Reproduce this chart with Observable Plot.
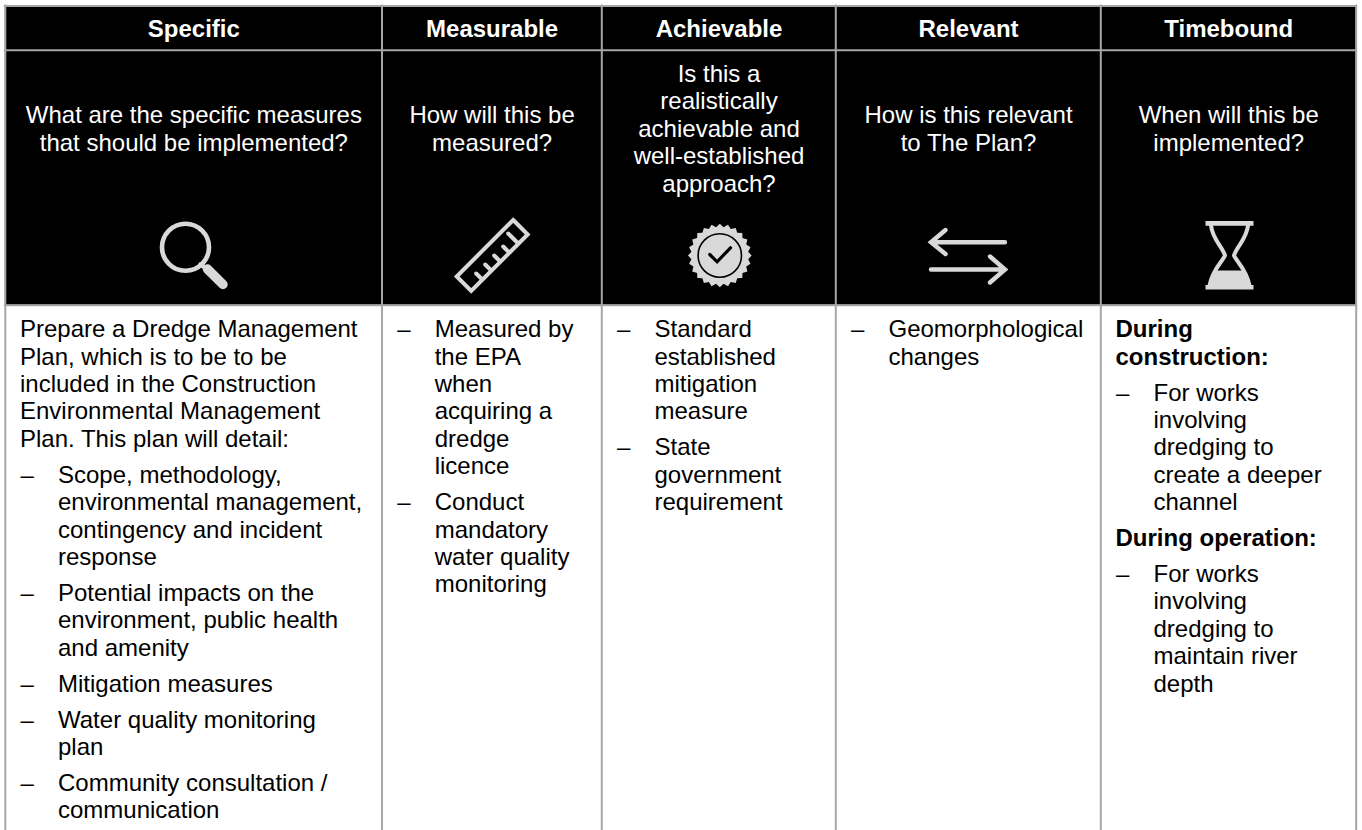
<!DOCTYPE html>
<html>
<head>
<meta charset="utf-8">
<script src="https://cdn.jsdelivr.net/npm/d3@7"></script>
<script src="https://cdn.jsdelivr.net/npm/@observablehq/plot@0.6"></script>
<style>
html,body{margin:0;padding:0;background:#fff}
svg{display:block}
</style>
</head>
<body>
<div id="chart"></div>
<script>
// ---------- content ----------
const headings = ["Specific", "Measurable", "Achievable", "Relevant", "Timebound"];
const questions = [
  ["What are the specific measures", "that should be implemented?"],
  ["How will this be", "measured?"],
  ["Is this a", "realistically", "achievable and", "well-established", "approach?"],
  ["How is this relevant", "to The Plan?"],
  ["When will this be", "implemented?"]
];
const specificBody = [
  ["lead", "Prepare a Dredge Management", "Plan, which is to be to be", "included in the Construction", "Environmental Management", "Plan. This plan will detail:"],
  ["bullet", "Scope, methodology,", "environmental management,", "contingency and incident", "response"],
  ["bullet", "Potential impacts on the", "environment, public health", "and amenity"],
  ["bullet", "Mitigation measures"],
  ["bullet", "Water quality monitoring", "plan"],
  ["bullet", "Community consultation /", "communication"]
];
const measurableBody = [
  ["bullet", "Measured by", "the EPA", "when", "acquiring a", "dredge", "licence"],
  ["bullet", "Conduct", "mandatory", "water quality", "monitoring"]
];
const achievableBody = [
  ["bullet", "Standard", "established", "mitigation", "measure"],
  ["bullet", "State", "government", "requirement"]
];
const relevantBody = [
  ["bullet", "Geomorphological", "changes"]
];
const timeboundBody = [
  ["bold", "During", "construction:"],
  ["bullet", "For works", "involving", "dredging to", "create a deeper", "channel"],
  ["bold", "During operation:"],
  ["bullet", "For works", "involving", "dredging to", "maintain river", "depth"]
];
const bodies = [specificBody, measurableBody, achievableBody, relevantBody, timeboundBody];

// ---------- layout ----------
const W = 1362, H = 830;
const edges = [4.8, 381.5, 601.3, 835.3, 1100.3, 1355.7];
const rows = [5.5, 49.8, 304.7];
const FS = 24, LH = 27.42, GAP = 8.5;
const PAD = 15.2, INDENT = 37.5;
const centers = headings.map((_, i) => (edges[i] + edges[i + 1]) / 2 + 0.2);
const FONT = "'Liberation Sans', Arial, sans-serif";

const headRows = headings.map((t, i) => ({t, x: centers[i], y: 36.7}));
const questionRows = questions.flatMap((lines, c) =>
  lines.map((t, i) => ({t, x: centers[c], y: 136.4 + (i - (lines.length - 1) / 2) * LH})));
const bodyRows = [], dashRows = [];
bodies.forEach((paras, c) => {
  let y = 336.7;
  const left = edges[c] + PAD;
  paras.forEach(([kind, ...lines]) => {
    if (kind === "bullet") dashRows.push({x: left, y});
    lines.forEach(t => {
      bodyRows.push({t, y, x: kind === "bullet" ? left + INDENT : left - 0.5, bold: kind === "bold"});
      y += LH;
    });
    y += GAP;
  });
});

// ---------- icon glyphs, in local pixels around each icon's anchor ----------
const glyph = draw => ({draw});
const poly = (p, pts, close) => {
  pts.forEach(([x, y], i) => i ? p.lineTo(x, y) : p.moveTo(x, y));
  if (close) p.closePath();
};
const loupeRing = glyph(p => { p.moveTo(23.5, -8.3); p.arc(0, -8.3, 23.5, 0, 2 * Math.PI); poly(p, [[15, 9], [22, 14]]); });
const loupeGrip = glyph(p => poly(p, [[22, 13.6], [37.5, 29]]));
const rulerBody = glyph(p => {
  poly(p, [[21, -35.5], [35.5, -21], [-21, 35.5], [-35.5, 21]], true);
  [[26, -12, 10], [17, -3, 6], [8, 6, 6], [-1, 15, 6], [-10, 24, 6]].forEach(([x, y, l]) =>
    poly(p, [[x, y], [x - l, y - l]]));
});
const sealOutline = glyph(p => {
  const n = 24;
  for (let i = 0; i < 2 * n; i++) {
    const r = i % 2 ? 28.6 : 31.8, a = i * Math.PI / n;
    const x = r * Math.cos(a), y = r * Math.sin(a);
    i ? p.lineTo(x, y) : p.moveTo(x, y);
  }
  p.closePath();
});
const sealRing = glyph(p => { p.moveTo(21.7, 0); p.arc(0, 0, 21.7, 0, 2 * Math.PI); });
const sealTick = glyph(p => poly(p, [[-10, -1], [-2.7, 6.3], [10.7, -7.7]]));
const arrowPair = glyph(p => {
  poly(p, [[-37.5, -13.3], [36.5, -13.3]]);
  poly(p, [[-23, -25.5], [-37.5, -13.3], [-23, -1.5]]);
  poly(p, [[-37.5, 14], [36.5, 14]]);
  poly(p, [[21.5, 1], [36.5, 14], [21.5, 27]]);
});
const glassBars = glyph(p => {
  poly(p, [[-24, -34.4], [24, -34.4], [24, -29.8], [-24, -29.8]], true);
  poly(p, [[-24, 29.4], [24, 29.4], [24, 34], [-24, 34]], true);
});
const glassOutline = glyph(p => {
  p.moveTo(-18.5, -30); p.bezierCurveTo(-17, -16, -7, -9, -4.5, 0); p.bezierCurveTo(-7, 6, -17, 14, -20, 30);
  p.moveTo(18.5, -30); p.bezierCurveTo(17, -16, 7, -9, 4.5, 0); p.bezierCurveTo(7, 6, 17, 14, 20, 30);
});
const glassSand = glyph(p => poly(p, [[-12.5, 15], [12.5, 15], [17, 21], [21.5, 30], [-21.5, 30], [-17, 21]], true));

const ICON = "#d9d9d9";
const anchors = [{x: 185, y: 255}, {x: 491.7, y: 255}, {x: 719.3, y: 255}, {x: 968, y: 255}, {x: 1229, y: 255}];
const iconParts = [
  [0, loupeRing, "none", ICON, 4.6],
  [0, loupeGrip, "none", ICON, 9.5],
  [1, rulerBody, "none", ICON, 4],
  [2, sealOutline, ICON, "none", 0],
  [2, sealRing, "none", "#000", 1.6],
  [2, sealTick, "none", "#000", 3.2],
  [3, arrowPair, "none", ICON, 4.4],
  [4, glassBars, ICON, "none", 0],
  [4, glassOutline, "none", ICON, 4],
  [4, glassSand, ICON, "none", 0]
];

// ---------- chart ----------
const textOpts = {x: "x", y: "y", text: "t", fontSize: FS, fontFamily: FONT, lineAnchor: "bottom"};
const chart = Plot.plot({
  width: W, height: H,
  margin: 0,
  x: {domain: [0, W], range: [0, W], axis: null},
  y: {domain: [0, H], range: [0, H], axis: null},
  style: {background: "#fff"},
  marks: [
    Plot.rect([{}], {x1: () => edges[0], x2: () => edges[5], y1: () => rows[0], y2: () => rows[2], fill: "#000"}),
    Plot.ruleX(edges, {x: d => d, y1: rows[0] - 1, y2: H, stroke: "#a6a6a6", strokeWidth: 2}),
    Plot.ruleY(rows, {y: d => d, x1: edges[0] - 1, x2: edges[5] + 1, stroke: "#a6a6a6", strokeWidth: 2}),
    Plot.text(headRows, {...textOpts, fill: "#fff", fontWeight: "bold", textAnchor: "middle"}),
    Plot.text(questionRows, {...textOpts, fill: "#fff", textAnchor: "middle"}),
    Plot.text(dashRows, {x: "x", y: "y", text: () => "–", fontSize: FS, fontFamily: FONT, lineAnchor: "bottom", fill: "#000", textAnchor: "start"}),
    Plot.text(bodyRows.filter(d => !d.bold), {...textOpts, fill: "#000", textAnchor: "start"}),
    Plot.text(bodyRows.filter(d => d.bold), {...textOpts, fill: "#000", fontWeight: "bold", textAnchor: "start"}),
    ...iconParts.map(([c, symbol, fill, stroke, strokeWidth]) =>
      Plot.dot([anchors[c]], {x: "x", y: "y", symbol, fill, stroke, strokeWidth, strokeLinecap: "round", strokeLinejoin: "miter", r: 10}))
  ]
});
document.getElementById("chart").appendChild(chart);
</script>
</body>
</html>
